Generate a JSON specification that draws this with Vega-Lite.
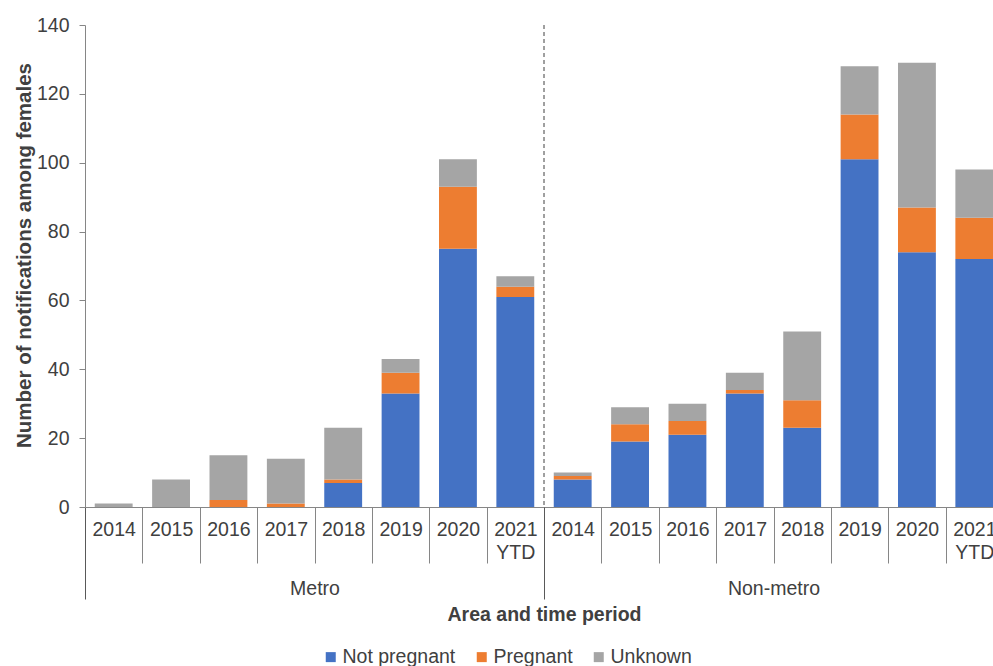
{
  "$schema": "https://vega.github.io/schema/vega-lite/v6.json",
  "width": 918,
  "height": 482,
  "autosize": {"type": "none"},
  "padding": {"left": 85, "top": 25, "right": -10, "bottom": 159},
  "background": "white",
  "config": {
    "view": {"stroke": null},
    "font": "Liberation Sans"
  },
  "data": {
    "values": [
      {"slot": "Metro 2014", "area": "Metro", "year": "2014", "status": "Not pregnant", "n": 0},
      {"slot": "Metro 2014", "area": "Metro", "year": "2014", "status": "Pregnant", "n": 0},
      {"slot": "Metro 2014", "area": "Metro", "year": "2014", "status": "Unknown", "n": 1},
      {"slot": "Metro 2015", "area": "Metro", "year": "2015", "status": "Not pregnant", "n": 0},
      {"slot": "Metro 2015", "area": "Metro", "year": "2015", "status": "Pregnant", "n": 0},
      {"slot": "Metro 2015", "area": "Metro", "year": "2015", "status": "Unknown", "n": 8},
      {"slot": "Metro 2016", "area": "Metro", "year": "2016", "status": "Not pregnant", "n": 0},
      {"slot": "Metro 2016", "area": "Metro", "year": "2016", "status": "Pregnant", "n": 2},
      {"slot": "Metro 2016", "area": "Metro", "year": "2016", "status": "Unknown", "n": 13},
      {"slot": "Metro 2017", "area": "Metro", "year": "2017", "status": "Not pregnant", "n": 0},
      {"slot": "Metro 2017", "area": "Metro", "year": "2017", "status": "Pregnant", "n": 1},
      {"slot": "Metro 2017", "area": "Metro", "year": "2017", "status": "Unknown", "n": 13},
      {"slot": "Metro 2018", "area": "Metro", "year": "2018", "status": "Not pregnant", "n": 7},
      {"slot": "Metro 2018", "area": "Metro", "year": "2018", "status": "Pregnant", "n": 1},
      {"slot": "Metro 2018", "area": "Metro", "year": "2018", "status": "Unknown", "n": 15},
      {"slot": "Metro 2019", "area": "Metro", "year": "2019", "status": "Not pregnant", "n": 33},
      {"slot": "Metro 2019", "area": "Metro", "year": "2019", "status": "Pregnant", "n": 6},
      {"slot": "Metro 2019", "area": "Metro", "year": "2019", "status": "Unknown", "n": 4},
      {"slot": "Metro 2020", "area": "Metro", "year": "2020", "status": "Not pregnant", "n": 75},
      {"slot": "Metro 2020", "area": "Metro", "year": "2020", "status": "Pregnant", "n": 18},
      {"slot": "Metro 2020", "area": "Metro", "year": "2020", "status": "Unknown", "n": 8},
      {"slot": "Metro 2021 YTD", "area": "Metro", "year": "2021 YTD", "status": "Not pregnant", "n": 61},
      {"slot": "Metro 2021 YTD", "area": "Metro", "year": "2021 YTD", "status": "Pregnant", "n": 3},
      {"slot": "Metro 2021 YTD", "area": "Metro", "year": "2021 YTD", "status": "Unknown", "n": 3},
      {"slot": "Non-metro 2014", "area": "Non-metro", "year": "2014", "status": "Not pregnant", "n": 8},
      {"slot": "Non-metro 2014", "area": "Non-metro", "year": "2014", "status": "Pregnant", "n": 1},
      {"slot": "Non-metro 2014", "area": "Non-metro", "year": "2014", "status": "Unknown", "n": 1},
      {"slot": "Non-metro 2015", "area": "Non-metro", "year": "2015", "status": "Not pregnant", "n": 19},
      {"slot": "Non-metro 2015", "area": "Non-metro", "year": "2015", "status": "Pregnant", "n": 5},
      {"slot": "Non-metro 2015", "area": "Non-metro", "year": "2015", "status": "Unknown", "n": 5},
      {"slot": "Non-metro 2016", "area": "Non-metro", "year": "2016", "status": "Not pregnant", "n": 21},
      {"slot": "Non-metro 2016", "area": "Non-metro", "year": "2016", "status": "Pregnant", "n": 4},
      {"slot": "Non-metro 2016", "area": "Non-metro", "year": "2016", "status": "Unknown", "n": 5},
      {"slot": "Non-metro 2017", "area": "Non-metro", "year": "2017", "status": "Not pregnant", "n": 33},
      {"slot": "Non-metro 2017", "area": "Non-metro", "year": "2017", "status": "Pregnant", "n": 1},
      {"slot": "Non-metro 2017", "area": "Non-metro", "year": "2017", "status": "Unknown", "n": 5},
      {"slot": "Non-metro 2018", "area": "Non-metro", "year": "2018", "status": "Not pregnant", "n": 23},
      {"slot": "Non-metro 2018", "area": "Non-metro", "year": "2018", "status": "Pregnant", "n": 8},
      {"slot": "Non-metro 2018", "area": "Non-metro", "year": "2018", "status": "Unknown", "n": 20},
      {"slot": "Non-metro 2019", "area": "Non-metro", "year": "2019", "status": "Not pregnant", "n": 101},
      {"slot": "Non-metro 2019", "area": "Non-metro", "year": "2019", "status": "Pregnant", "n": 13},
      {"slot": "Non-metro 2019", "area": "Non-metro", "year": "2019", "status": "Unknown", "n": 14},
      {"slot": "Non-metro 2020", "area": "Non-metro", "year": "2020", "status": "Not pregnant", "n": 74},
      {"slot": "Non-metro 2020", "area": "Non-metro", "year": "2020", "status": "Pregnant", "n": 13},
      {"slot": "Non-metro 2020", "area": "Non-metro", "year": "2020", "status": "Unknown", "n": 42},
      {"slot": "Non-metro 2021 YTD", "area": "Non-metro", "year": "2021 YTD", "status": "Not pregnant", "n": 72},
      {"slot": "Non-metro 2021 YTD", "area": "Non-metro", "year": "2021 YTD", "status": "Pregnant", "n": 12},
      {"slot": "Non-metro 2021 YTD", "area": "Non-metro", "year": "2021 YTD", "status": "Unknown", "n": 14}
    ]
  },
  "layer": [
    {
      "mark": {"type": "bar", "width": {"band": 0.66}},
      "encoding": {
        "x": {
          "field": "slot",
          "type": "nominal",
          "sort": null,
          "scale": {"type": "band", "paddingInner": 0, "paddingOuter": 0},
          "axis": {
            "title": null,
            "orient": "bottom",
            "domainColor": "#868686",
            "tickColor": "#868686",
            "tickBand": "extent",
            "tickSize": 56,
            "labelPadding": -43,
            "labelFontSize": 19.5,
            "labelColor": "#404040",
            "labelAngle": 0,
            "labelBaseline": "top",
            "labelLineHeight": 23,
            "labelExpr": "datum.value == null ? '' : (test(/YTD/, '' + datum.value) ? ['2021', 'YTD'] : replace(replace('' + datum.value, 'Non-metro ', ''), 'Metro ', ''))"
          }
        },
        "y": {
          "field": "n",
          "type": "quantitative",
          "stack": "zero",
          "scale": {"domain": [0, 140]},
          "axis": {
            "title": "Number of notifications among females",
            "values": [0, 20, 40, 60, 80, 100, 120, 140],
            "grid": false,
            "domainColor": "#868686",
            "tickColor": "#868686",
            "tickSize": 6,
            "labelPadding": 10,
            "labelFontSize": 19.5,
            "labelColor": "#404040",
            "titleFontSize": 20.5,
            "titleFontWeight": "bold",
            "titleColor": "#404040",
            "titlePadding": 2,
            "titleY": 230
          }
        },
        "order": {"field": "status", "sort": "ascending"},
        "color": {
          "field": "status",
          "type": "nominal",
          "scale": {
            "domain": ["Not pregnant", "Pregnant", "Unknown"],
            "range": ["#4472C4", "#ED7D31", "#A5A5A5"]
          },
          "legend": {
            "title": null,
            "orient": "none",
            "direction": "horizontal",
            "legendX": 236,
            "legendY": 622,
            "symbolType": "square",
            "symbolSize": 100,
            "symbolStrokeWidth": 0,
            "labelFontSize": 19.5,
            "labelColor": "#404040",
            "labelOffset": 2,
            "columnPadding": 16,
            "padding": 0
          }
        }
      }
    },
    {
      "transform": [{"filter": "datum.area == 'Non-metro' && datum.year == '2014' && datum.status == 'Unknown'"}],
      "mark": {"type": "rule", "strokeDash": [4, 3], "color": "#404040", "strokeWidth": 1},
      "encoding": {
        "x": {
          "field": "area",
          "type": "nominal",
          "bandPosition": 0,
          "scale": {"type": "band", "domain": ["Metro", "Non-metro"], "paddingInner": 0, "paddingOuter": 0},
          "axis": {
            "title": "Area and time period",
            "orient": "bottom",
            "domain": false,
            "tickBand": "extent",
            "tickSize": 92,
            "tickColor": "#595959",
            "labelPadding": -20,
            "labelFontSize": 19.5,
            "labelColor": "#404040",
            "labelAngle": 0,
            "labelBaseline": "top",
            "titleFontSize": 19.5,
            "titleFontWeight": "bold",
            "titleColor": "#404040",
            "titlePadding": 6
          }
        }
      }
    }
  ],
  "resolve": {"scale": {"x": "independent"}, "axis": {"x": "independent"}}
}
